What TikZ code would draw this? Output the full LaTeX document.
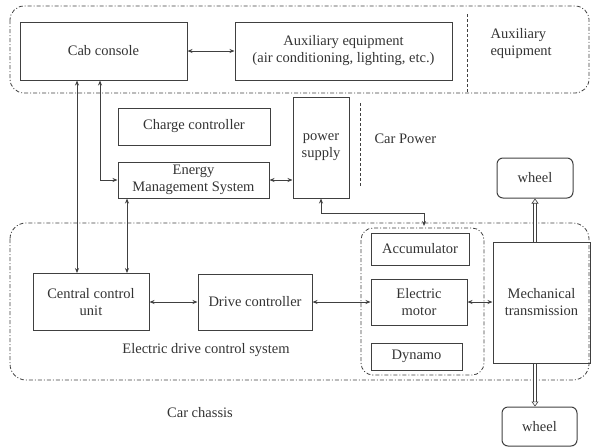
\documentclass[tikz,border=0pt]{standalone}
\usepackage{fontspec}
\setmainfont{Liberation Serif}
\usetikzlibrary{arrows.meta,calc}
\definecolor{ln}{HTML}{404040}
\definecolor{tx}{HTML}{333333}
\begin{document}
\begin{tikzpicture}[x=1pt,y=-1pt,
  every node/.style={font=\fontsize{14.5}{17}\selectfont, text=tx},
  blk/.style={draw=ln, line width=1pt, inner sep=1pt, align=center},
  wheelbox/.style={blk, rounded corners=6pt},
  region/.style={draw=ln, line width=0.8pt, dash pattern=on 4pt off 2pt on 1pt off 2pt},
  divider/.style={draw=ln, line width=0.8pt, dash pattern=on 3pt off 2pt},
  conn/.style={draw=ln, line width=0.8pt, {Stealth[length=5pt,width=4pt]}-{Stealth[length=5pt,width=4pt]}},
  dbl/.style={draw=ln, line width=0.6pt, double, double distance=2pt, -{Triangle[open,length=5pt,width=7pt]}},
  lbl/.style={align=left}
]
\useasboundingbox (0,0) rectangle (591,447);

% regions
\draw[region, rounded corners=14pt] (10,6) rectangle (589,93);
\draw[divider] (467,14) -- (467,93);
\draw[region, rounded corners=16pt] (10,223) rectangle (589,380);
\draw[region, rounded corners=12pt] (361,228) rectangle (484,375);
\draw[divider] (360,103) -- (360,187);

% blocks
\node[blk, minimum width=167pt, minimum height=58pt] (cab) at (103.5,51) {Cab console};
\node[blk, minimum width=217pt, minimum height=58pt] (aux) at (343.5,51) {Auxiliary equipment\\(air conditioning, lighting, etc.)};
\node[blk, minimum width=152pt, minimum height=37pt] (charge) at (194,126.5) {Charge controller};
\node[blk, minimum width=151pt, minimum height=36pt] (ems) at (193.5,180) {Energy\\Management System};
\node[blk, minimum width=56pt, minimum height=101pt] (power) at (321,147.5) {power\\supply};
\node[wheelbox, minimum width=76pt, minimum height=40pt] (wheelA) at (535,178) {wheel};
\node[blk, minimum width=116pt, minimum height=57pt] (ccu) at (91,302) {Central control\\unit};
\node[blk, minimum width=114pt, minimum height=56pt] (drive) at (255,302) {Drive controller};
\node[blk, minimum width=98pt, minimum height=32pt] (acc) at (420,249) {Accumulator};
\node[blk, minimum width=96pt, minimum height=46pt] (motor) at (419,302) {Electric\\motor};
\node[blk, minimum width=91pt, minimum height=27pt] (dyn) at (416.5,356.5) {Dynamo};
\node[blk, minimum width=97pt, minimum height=121pt] (mech) at (541.5,302.5) {Mechanical\\transmission};
\node[wheelbox, minimum width=75pt, minimum height=39pt] (wheelB) at (539.5,426.5) {wheel};

% labels
\node[lbl, anchor=west] (auxlbl) at (487,44) {Auxiliary\\equipment};
\node[anchor=west] (cplbl) at (371,139) {Car Power};
\node (edlbl) at (206,350) {Electric drive control system};
\node (chlbl) at (200,413) {Car chassis};

% helper coordinates
\coordinate (c77) at (77,0);
\coordinate (c100) at (100,0);
\coordinate (c127) at (127,0);
\coordinate (pdrop) at (424,226);
\coordinate (c535) at (535,0);

% connectors
\draw[conn] (cab.east) -- (aux.west);
\draw[conn] (cab.south -| c77) -- (ccu.north -| c77);
\draw[conn] (cab.south -| c100) |- (ems.west);
\draw[conn] (ems.south -| c127) -- (ccu.north -| c127);
\draw[conn] (ems.east) -- (ems.east -| power.west);
\draw[conn] (power.south) -- ++(0,15) -| (pdrop);
\draw[conn] (ccu.east) -- (drive.west);
\draw[conn] (drive.east) -- (motor.west);
\draw[conn] (motor.east) -- (motor.east -| mech.west);
\draw[dbl] (mech.north -| wheelA.south) -- (wheelA.south);
\draw[dbl] (mech.south -| c535) -- (wheelB.north -| c535);
\end{tikzpicture}
\end{document}
